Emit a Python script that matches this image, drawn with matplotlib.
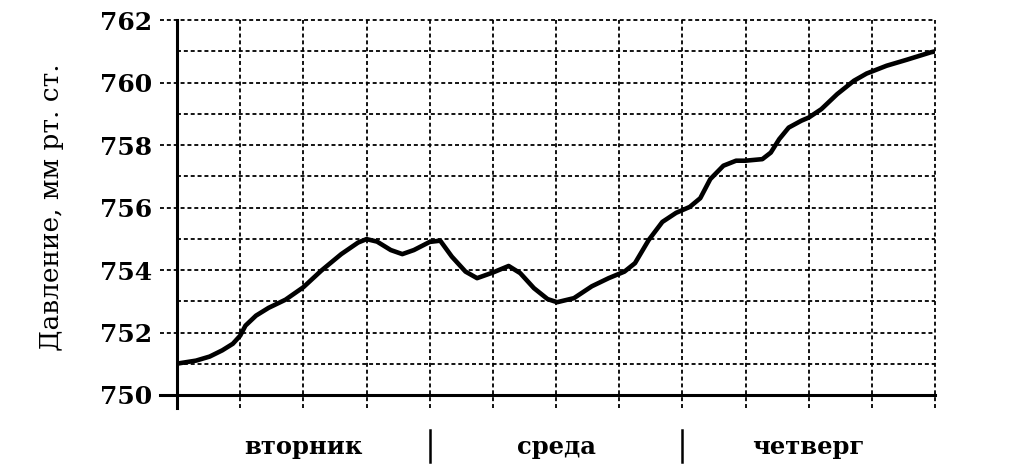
import matplotlib
matplotlib.use("Agg")
import matplotlib.pyplot as plt

# time in hours from Tuesday 00:00, pressure in mm Hg
hours = [0, 0.3, 1.8, 3.1, 4.3, 5.3, 6, 6.5, 7.5, 8.7, 10.3, 12, 13.7, 15.6,
         17.2, 18, 19, 20.3, 21.4, 22.5, 24, 25, 26.1, 27.4, 28.5, 30, 31.5,
         32.6, 33.9, 35.2, 36.1, 37.7, 39.4, 41, 42.5, 43.5, 44.8, 46.1,
         47.4, 48.7, 49.7, 50.65, 51.9, 53.1, 54, 55.6, 56.4, 57.2, 58.1,
         59.3, 60, 61.2, 62.7, 64.3, 65.5, 67.4, 69.3, 71.6, 72]
pressure = [751.0, 751.02, 751.1, 751.23, 751.43, 751.64, 751.9, 752.22, 752.54,
            752.79, 753.05, 753.45, 753.98, 754.51, 754.88, 754.99, 754.91,
            754.64, 754.51, 754.64, 754.9, 754.94, 754.43, 753.95, 753.74,
            753.92, 754.13, 753.9, 753.42, 753.07, 752.97, 753.1, 753.48,
            753.74, 753.95, 754.22, 754.96, 755.54, 755.83, 756.02, 756.3,
            756.91, 757.34, 757.5, 757.5, 757.55, 757.76, 758.19, 758.56,
            758.78, 758.88, 759.15, 759.63, 760.06, 760.29, 760.54, 760.73,
            760.97, 761.0]

days = ["вторник", "среда", "четверг"]
day_centers = [12, 36, 60]
day_bounds = [24, 48]
y_ticks = [750, 752, 754, 756, 758, 760, 762]

serif = ["DejaVu Serif"]

fig = plt.figure(figsize=(10.18, 4.68), dpi=100)
ax = fig.add_axes([0.1739, 0.156, 0.7446, 0.801])

ax.set_xlim(0, 72)
ax.set_ylim(750, 762)

dash = (0, (2.2, 1.6))
for v in range(751, 763):
    # labelled lines stick out to the left of the axis
    x0 = -0.022 if v % 2 == 0 else 0
    ax.axhline(v, xmin=x0, xmax=1, color="black", lw=1.3, ls=dash, clip_on=False, zorder=1)
for h in range(6, 73, 6):
    ax.axvline(h, ymin=-0.035, ymax=1, color="black", lw=1.3, ls=dash, clip_on=False, zorder=1)

# solid axes
ax.axhline(750, xmin=-0.022, xmax=1, color="black", lw=2.2, clip_on=False, zorder=2)
ax.axvline(0, ymin=-0.035, ymax=1, color="black", lw=2.2, clip_on=False, zorder=2)

ax.plot(hours, pressure, color="black", lw=3.3, solid_capstyle="round",
        solid_joinstyle="round", zorder=3)

for s in ax.spines.values():
    s.set_visible(False)

ax.set_xticks([])
ax.set_yticks(y_ticks)
ax.tick_params(axis="y", length=0, pad=18)
for lbl in ax.get_yticklabels():
    lbl.set_fontfamily(serif)
    lbl.set_fontweight("bold")
    lbl.set_fontsize(18)

ax.set_ylabel("Давление, мм рт. ст.", family=serif, fontsize=19, labelpad=26)

for name, c in zip(days, day_centers):
    ax.text(c, -0.139, name, transform=ax.get_xaxis_transform(), ha="center", va="center",
            family=serif, fontweight="bold", fontsize=17.5)
for b in day_bounds:
    ax.axvline(b, ymin=-0.179, ymax=-0.093, color="black", lw=1.8, clip_on=False)

fig.savefig("out.png", dpi=100)
